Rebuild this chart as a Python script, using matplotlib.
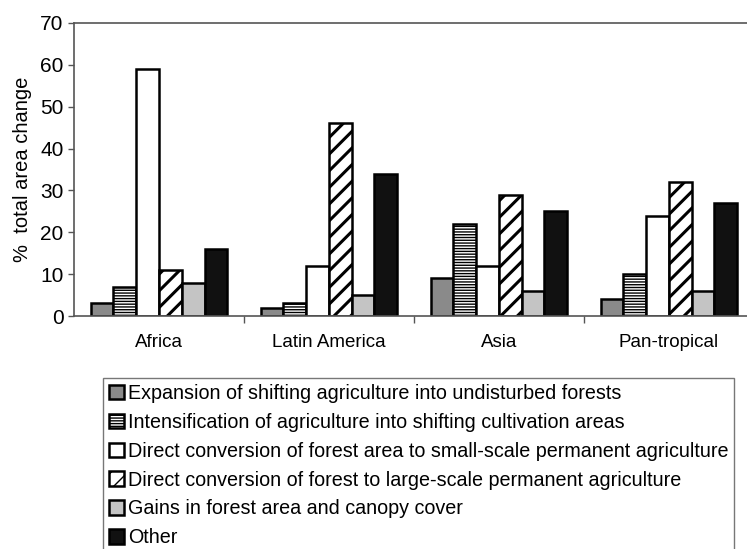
import numpy as np
import matplotlib.pyplot as plt

plt.rcParams['font.family'] = ['Liberation Sans', 'DejaVu Sans']
plt.rcParams['hatch.linewidth'] = 1.0

regions = ['Africa', 'Latin America', 'Asia', 'Pan-tropical']
series_names = [
    'Expansion of shifting agriculture into undisturbed forests',
    'Intensification of agriculture into shifting cultivation areas',
    'Direct conversion of forest area to small-scale permanent agriculture',
    'Direct conversion of forest to large-scale permanent agriculture',
    'Gains in forest area and canopy cover',
    'Other',
]
expansion = [3, 2, 9, 4]
intensification = [7, 3, 22, 10]
small_scale = [59, 12, 12, 24]
large_scale = [11, 46, 29, 32]
gains = [8, 5, 6, 6]
other = [16, 34, 25, 27]

values = [expansion, intensification, small_scale, large_scale, gains, other]
colors = ['#8a8a8a', 'white', 'white', 'white', '#c4c4c4', '#111111']
hatches = [None, '------', None, '//', None, None]
hatch_lw = [1.0, 1.0, 1.0, 2.2, 1.0, 1.0]

fig = plt.figure(figsize=(7.47, 5.49), dpi=100)
ax = fig.add_axes([74 / 747, 1 - 316 / 549, 1 - 74 / 747, 293 / 549])

x = np.arange(len(regions))
w = 0.134
for i, (vals, c, h) in enumerate(zip(values, colors, hatches)):
    bars = ax.bar(x + (i - 2.5) * w, vals, width=w, color=c, hatch=h,
                  edgecolor='black', linewidth=1.8, label=series_names[i])
    for b in bars:
        if hasattr(b, 'set_hatch_linewidth'):
            b.set_hatch_linewidth(hatch_lw[i])

ax.set_ylim(0, 70)
ax.set_yticks(range(0, 71, 10))
ax.set_xlim(-0.5, 3.46)
ax.set_xticks(x)
ax.set_xticklabels(regions, fontsize=13.5)
ax.set_xticks([0.5, 1.5, 2.5], minor=True)
ax.tick_params(axis='x', which='major', length=0, pad=13)
ax.tick_params(axis='x', which='minor', length=5, width=1, color='#555555')
ax.tick_params(axis='y', labelsize=15, length=4, width=1, color='#555555')
ax.set_ylabel('%  total area change', fontsize=14.5, labelpad=6)
for s in ['left', 'top', 'bottom']:
    ax.spines[s].set_color('#555555')
    ax.spines[s].set_linewidth(1.2)
ax.spines['right'].set_visible(False)

leg = fig.legend(loc='upper left',
                 bbox_to_anchor=(103 / 747, 1 - 378 / 549),
                 fontsize=14.2, frameon=True, fancybox=False, edgecolor='#555555',
                 handlelength=0.75, handleheight=0.75, handletextpad=0.2,
                 labelspacing=0.5, borderpad=0.3, borderaxespad=0)
leg.get_frame().set_linewidth(1.0)

fig.savefig('out.png', dpi=100)
